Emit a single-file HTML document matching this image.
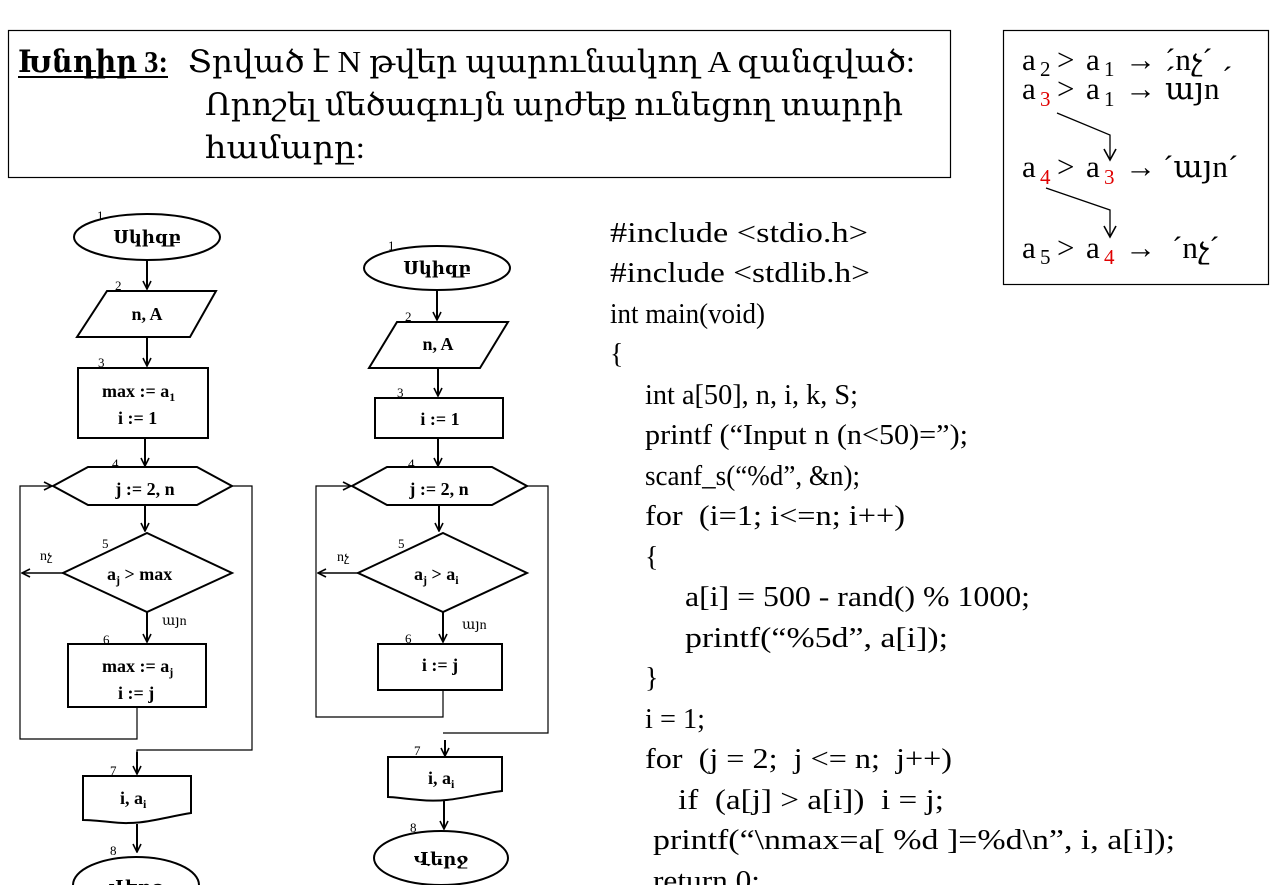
<!DOCTYPE html>
<html><head><meta charset="utf-8"><style>
html,body{margin:0;padding:0;background:#fff;}
svg{display:block;}
text{font-family:"Liberation Serif","DejaVu Serif",serif;fill:#000;white-space:pre;}
.b{font-weight:bold;}
.fc{font-size:18px;font-weight:bold;}
.num{font-size:13px;}
.code{font-size:28px;}
.rb{font-size:31px;}
.rs{font-size:21px;}
.red{fill:#e00000;}
</style></head><body>
<svg width="1279" height="885" viewBox="0 0 1279 885" xmlns="http://www.w3.org/2000/svg" xml:space="preserve">
<defs>
<marker id="ah" markerWidth="10" markerHeight="10" refX="9" refY="5" orient="auto" markerUnits="userSpaceOnUse"><path d="M1,1 L9,5 L1,9" fill="none" stroke="#000" stroke-width="1.6"/></marker>
<marker id="ah2" markerWidth="14" markerHeight="14" refX="12" refY="7" orient="auto" markerUnits="userSpaceOnUse"><path d="M1,1 L12,7 L1,13" fill="none" stroke="#000" stroke-width="1.6"/></marker>
</defs>
<g>
<rect x="8.5" y="30.5" width="942" height="147" fill="none" stroke="#000" stroke-width="1.2"/>
<text x="18" y="72" font-size="31" class="b" textLength="150" lengthAdjust="spacingAndGlyphs">Խնդիր 3:</text>
<line x1="18" y1="77" x2="168" y2="77" stroke="#000" stroke-width="2"/>
<text x="188" y="72" font-size="31" textLength="727" lengthAdjust="spacingAndGlyphs">Տրված է N թվեր պարունակող A զանգված:</text>
<text x="205" y="115" font-size="31" textLength="698" lengthAdjust="spacingAndGlyphs">Որոշել մեծագույն արժեք ունեցող տարրի</text>
<text x="205" y="158" font-size="31" textLength="160" lengthAdjust="spacingAndGlyphs">համարը:</text>
</g>
<g>
<rect x="1003.5" y="30.5" width="265" height="254" fill="none" stroke="#000" stroke-width="1.2"/>
<!-- row 1 -->
<text class="rb" x="1022" y="70">a</text><text class="rs" x="1040" y="76">2</text>
<text class="rb" x="1057" y="70">&gt;</text>
<text class="rb" x="1086" y="70">a</text><text class="rs" x="1104" y="76">1</text>
<text class="rb" x="1125" y="70">→</text>
<text class="rb" x="1165" y="70">´nչ´</text>
<text class="rb" x="1165" y="88">´</text><text class="rb" x="1222" y="88">´</text>
<!-- row 2 -->
<text class="rb" x="1022" y="99">a</text><text class="rs red" x="1040" y="106">3</text>
<text class="rb" x="1057" y="99">&gt;</text>
<text class="rb" x="1086" y="99">a</text><text class="rs" x="1104" y="106">1</text>
<text class="rb" x="1125" y="99">→</text>
<text class="rb" x="1165" y="99">այn</text>
<!-- row 3 -->
<text class="rb" x="1022" y="177">a</text><text class="rs red" x="1040" y="184">4</text>
<text class="rb" x="1057" y="177">&gt;</text>
<text class="rb" x="1086" y="177">a</text><text class="rs red" x="1104" y="184">3</text>
<text class="rb" x="1125" y="177">→</text>
<text class="rb" x="1163" y="177">´այn´</text>
<!-- row 4 -->
<text class="rb" x="1022" y="258">a</text><text class="rs" x="1040" y="264">5</text>
<text class="rb" x="1057" y="258">&gt;</text>
<text class="rb" x="1086" y="258">a</text><text class="rs red" x="1104" y="264">4</text>
<text class="rb" x="1125" y="258">→</text>
<text class="rb" x="1172" y="258">´nչ´</text>
<polyline points="1057,113 1110,135 1110,160" fill="none" stroke="#000" stroke-width="1.3" marker-end="url(#ah2)"/>
<polyline points="1046,188 1110,210 1110,237" fill="none" stroke="#000" stroke-width="1.3" marker-end="url(#ah2)"/>
</g>
<g fill="none" stroke="#000" stroke-width="2">
<ellipse cx="147" cy="237" rx="73" ry="23"/>
<text class="fc" x="147" y="243" text-anchor="middle" stroke="none">Սկիզբ</text>
<text class="num" x="97" y="220" stroke="none">1</text>
<line x1="147" y1="260" x2="147" y2="289" marker-end="url(#ah)"/>
<polygon points="107,291 216,291 190,337 77,337"/>
<text class="num" x="115" y="290" stroke="none">2</text>
<text class="fc" x="147" y="320" text-anchor="middle" stroke="none">n, A</text>
<line x1="147" y1="337" x2="147" y2="366" marker-end="url(#ah)"/>
<rect x="78" y="368" width="130" height="70"/>
<text class="num" x="98" y="367" stroke="none">3</text>
<text class="fc" x="102" y="397" stroke="none">max := a<tspan font-size="12" dy="4">1</tspan></text>
<text class="fc" x="118" y="424" stroke="none">i := 1</text>
<line x1="145" y1="438" x2="145" y2="466" marker-end="url(#ah)"/>
<polygon points="53,486 88,467 197,467 232,486 197,505 88,505"/>
<text class="num" x="112" y="468" stroke="none">4</text>
<text class="fc" x="145" y="495" text-anchor="middle" stroke="none">j := 2, n</text>
<line x1="145" y1="505" x2="145" y2="531" marker-end="url(#ah)"/>
<polygon points="147,533 232,573 147,612 63,573"/>
<text class="num" x="102" y="548" stroke="none">5</text>
<text class="fc" x="107" y="580" stroke="none">a<tspan font-size="12" dy="4">j</tspan><tspan dy="-4"> &gt; max</tspan></text>
<line x1="63" y1="573" x2="22" y2="573" stroke-width="1.5" marker-end="url(#ah)"/>
<text x="40" y="560" font-size="14" stroke="none">nչ</text>
<line x1="147" y1="612" x2="147" y2="642" marker-end="url(#ah)"/>
<text x="162" y="625" font-size="14" stroke="none">այn</text>
<rect x="68" y="644" width="138" height="63"/>
<text class="num" x="103" y="644" stroke="none">6</text>
<text class="fc" x="102" y="672" stroke="none">max := a<tspan font-size="12" dy="4">j</tspan></text>
<text class="fc" x="118" y="699" stroke="none">i := j</text>
<polyline points="137,707 137,739 20,739 20,486 52,486" stroke-width="1.2" marker-end="url(#ah)"/>
<polyline points="232,486 252,486 252,750 137,750 137,774" stroke-width="1.2"/>
<line x1="137" y1="752" x2="137" y2="774" marker-end="url(#ah)"/>
<path d="M83,776 H191 V813 C160,818 140,826 110,822 C100,821 90,820 83,820 Z"/>
<text class="num" x="110" y="775" stroke="none">7</text>
<text class="fc" x="120" y="804" stroke="none">i, a<tspan font-size="12" dy="4">i</tspan></text>
<line x1="137" y1="824" x2="137" y2="852" marker-end="url(#ah)"/>
<ellipse cx="136" cy="885" rx="63" ry="28"/>
<text class="num" x="110" y="855" stroke="none">8</text>
<text class="fc" x="136" y="893" text-anchor="middle" stroke="none">Վերջ</text>
</g>
<g fill="none" stroke="#000" stroke-width="2">
<ellipse cx="437" cy="268" rx="73" ry="22"/>
<text class="fc" x="437" y="274" text-anchor="middle" stroke="none">Սկիզբ</text>
<text class="num" x="388" y="250" stroke="none">1</text>
<line x1="437" y1="290" x2="437" y2="320" marker-end="url(#ah)"/>
<polygon points="397,322 508,322 480,368 369,368"/>
<text class="num" x="405" y="321" stroke="none">2</text>
<text class="fc" x="438" y="350" text-anchor="middle" stroke="none">n, A</text>
<line x1="438" y1="368" x2="438" y2="396" marker-end="url(#ah)"/>
<rect x="375" y="398" width="128" height="40"/>
<text class="num" x="397" y="397" stroke="none">3</text>
<text class="fc" x="440" y="425" text-anchor="middle" stroke="none">i := 1</text>
<line x1="438" y1="438" x2="438" y2="466" marker-end="url(#ah)"/>
<polygon points="352,486 387,467 492,467 527,486 492,505 387,505"/>
<text class="num" x="408" y="468" stroke="none">4</text>
<text class="fc" x="439" y="495" text-anchor="middle" stroke="none">j := 2, n</text>
<line x1="439" y1="505" x2="439" y2="531" marker-end="url(#ah)"/>
<polygon points="443,533 527,573 443,612 358,573"/>
<text class="num" x="398" y="548" stroke="none">5</text>
<text class="fc" x="414" y="580" stroke="none">a<tspan font-size="12" dy="4">j</tspan><tspan dy="-4"> &gt; a</tspan><tspan font-size="12" dy="4">i</tspan></text>
<line x1="358" y1="573" x2="318" y2="573" stroke-width="1.5" marker-end="url(#ah)"/>
<text x="337" y="561" font-size="14" stroke="none">nչ</text>
<line x1="443" y1="612" x2="443" y2="642" marker-end="url(#ah)"/>
<text x="462" y="629" font-size="14" stroke="none">այn</text>
<rect x="378" y="644" width="124" height="46"/>
<text class="num" x="405" y="643" stroke="none">6</text>
<text class="fc" x="440" y="671" text-anchor="middle" stroke="none">i := j</text>
<polyline points="443,690 443,717 316,717 316,486 351,486" stroke-width="1.2" marker-end="url(#ah)"/>
<polyline points="527,486 548,486 548,733 443,733" stroke-width="1.2"/>
<line x1="445" y1="740" x2="445" y2="756" marker-end="url(#ah)"/>
<path d="M388,757 H502 V791 C470,795 450,803 420,800 C405,799 395,797 388,797 Z"/>
<text class="num" x="414" y="755" stroke="none">7</text>
<text class="fc" x="428" y="784" stroke="none">i, a<tspan font-size="12" dy="4">i</tspan></text>
<line x1="444" y1="800" x2="444" y2="829" marker-end="url(#ah)"/>
<ellipse cx="441" cy="858" rx="67" ry="27"/>
<text class="num" x="410" y="832" stroke="none">8</text>
<text class="fc" x="441" y="865" text-anchor="middle" stroke="none">Վերջ</text>
</g>
<g>
<text class="code" x="610" y="242" textLength="258" lengthAdjust="spacingAndGlyphs">#include &lt;stdio.h&gt;</text>
<text class="code" x="610" y="282" textLength="260" lengthAdjust="spacingAndGlyphs">#include &lt;stdlib.h&gt;</text>
<text class="code" x="610" y="323" textLength="155" lengthAdjust="spacingAndGlyphs">int main(void)</text>
<text class="code" x="610" y="363">{</text>
<text class="code" x="645" y="404" textLength="213" lengthAdjust="spacingAndGlyphs">int a[50], n, i, k, S;</text>
<text class="code" x="645" y="444" textLength="323" lengthAdjust="spacingAndGlyphs">printf (“Input n (n&lt;50)=”);</text>
<text class="code" x="645" y="485" textLength="215" lengthAdjust="spacingAndGlyphs">scanf_s(“%d”, &amp;n);</text>
<text class="code" x="645" y="525" textLength="260" lengthAdjust="spacingAndGlyphs">for  (i=1; i&lt;=n; i++)</text>
<text class="code" x="645" y="566">{</text>
<text class="code" x="685" y="606" textLength="345" lengthAdjust="spacingAndGlyphs">a[i] = 500 - rand() % 1000;</text>
<text class="code" x="685" y="647" textLength="263" lengthAdjust="spacingAndGlyphs">printf(“%5d”, a[i]);</text>
<text class="code" x="645" y="687">}</text>
<text class="code" x="645" y="728" textLength="60" lengthAdjust="spacingAndGlyphs">i = 1;</text>
<text class="code" x="645" y="768" textLength="307" lengthAdjust="spacingAndGlyphs">for  (j = 2;  j &lt;= n;  j++)</text>
<text class="code" x="678" y="809" textLength="266" lengthAdjust="spacingAndGlyphs">if  (a[j] &gt; a[i])  i = j;</text>
<text class="code" x="653" y="849" textLength="522" lengthAdjust="spacingAndGlyphs">printf(“\nmax=a[ %d ]=%d\n”, i, a[i]);</text>
<text class="code" x="653" y="890" textLength="107" lengthAdjust="spacingAndGlyphs">return 0;</text>
</g>
</svg>
</body></html>
